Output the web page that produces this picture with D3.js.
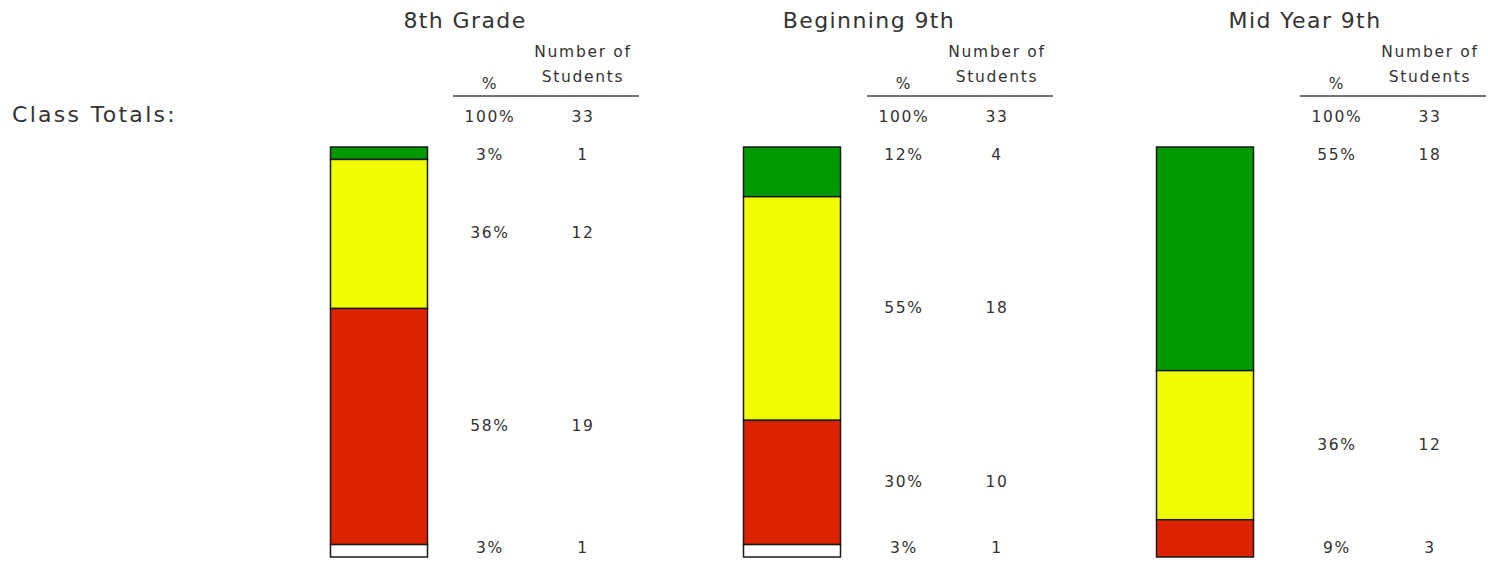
<!DOCTYPE html>
<html><head><meta charset="utf-8">
<script src="https://cdn.jsdelivr.net/npm/d3@7"></script>
<style>body{margin:0;background:#fff}svg{display:block}</style>
</head><body>
<svg id="c" width="1488" height="562"></svg>
<script>
const grades = ["8th Grade", "Beginning 9th", "Mid Year 9th"];
const levels = ["green", "yellow", "red", "white"];
const greenCounts = [1, 4, 18];
const yellowCounts = [12, 18, 12];
const redCounts = [19, 10, 3];
const whiteCounts = [1, 1, 0];
const totals = [33, 33, 33];
const colHeaders = ["%", "Number of", "Students"];
const rowTitle = "Class Totals:";

const colors = {green: "#009900", yellow: "#f2fc00", red: "#dd2200", white: "#ffffff"};
const series = {green: greenCounts, yellow: yellowCounts, red: redCounts, white: whiteCounts};
const colShift = [0, 1, 21];
const titleShift = [86, 77, 100];
const textColor = "#333";
const font = "'DejaVu Sans', sans-serif";

const svg = d3.select("#c");
const x = d3.scalePoint().domain(grades).range([379, 1205]);
const y = d3.scaleLinear().domain([0, 33]).range([147, 557]);
const barW = 97;

svg.append("text").attr("x", 12).attr("y", 116).attr("dominant-baseline", "middle")
  .attr("font-family", font).attr("font-size", 22).attr("letter-spacing", 2.3)
  .attr("fill", textColor).text(rowTitle);

grades.forEach((g, i) => {
  const cx = x(g);
  const pctX = cx + 111 + colShift[i];
  const cntX = cx + 204 + colShift[i];
  const G = svg.append("g");
  G.append("text").attr("x", cx + titleShift[i]).attr("y", 22).attr("text-anchor", "middle")
    .attr("dominant-baseline", "middle").attr("font-family", font).attr("font-size", 22)
    .attr("letter-spacing", 1.4).attr("fill", textColor).text(g);
  const small = (sel) => sel.attr("text-anchor", "middle").attr("dominant-baseline", "middle")
    .attr("font-family", font).attr("font-size", 15.5).attr("letter-spacing", 1.7).attr("fill", textColor);
  small(G.append("text").attr("x", pctX).attr("y", 84).attr("font-size", 13)).text(colHeaders[0]);
  small(G.append("text").attr("x", cntX).attr("y", 52)).text(colHeaders[1]);
  small(G.append("text").attr("x", cntX).attr("y", 77)).text(colHeaders[2]);
  G.append("line").attr("x1", pctX - 37).attr("x2", cntX + 56).attr("y1", 96).attr("y2", 96)
    .attr("stroke", "#444").attr("stroke-width", 1.5);
  small(G.append("text").attr("x", pctX).attr("y", 117)).text("100%");
  small(G.append("text").attr("x", cntX).attr("y", 117)).text(totals[i]);

  let cum = 0;
  const segs = [];
  levels.forEach(l => {
    const v = series[l][i];
    if (v > 0) segs.push({l, v, y0: cum, y1: cum + v});
    cum += v;
  });
  segs.forEach((s, k) => {
    G.append("rect").attr("x", cx - barW / 2).attr("width", barW)
      .attr("y", y(s.y0)).attr("height", y(s.y1) - y(s.y0))
      .attr("fill", colors[s.l]).attr("stroke", "#1a1a1a").attr("stroke-width", 1.5);
    let ly;
    if (k === 0) ly = y(s.y0) + 8;
    else if (k === segs.length - 1) ly = y(s.y1) - 9;
    else ly = (y(s.y0) + y(s.y1)) / 2;
    const pct = Math.round(s.v / totals[i] * 100) + "%";
    small(G.append("text").attr("x", pctX).attr("y", ly)).text(pct);
    small(G.append("text").attr("x", cntX).attr("y", ly)).text(s.v);
  });
});
</script>
</body></html>
